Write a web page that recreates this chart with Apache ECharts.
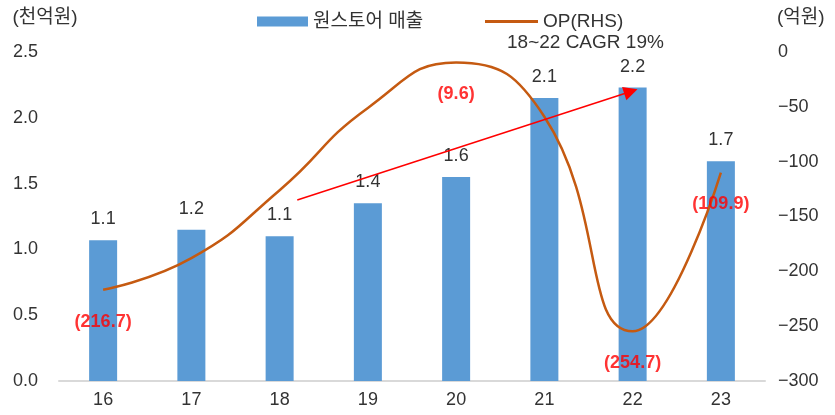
<!DOCTYPE html>
<html>
<head>
<meta charset="utf-8">
<script src="https://cdn.jsdelivr.net/npm/echarts@6/dist/echarts.min.js"></script>
<style>html,body{margin:0;padding:0;background:#fff}#c{width:835px;height:415px}</style>
</head>
<body>
<div id="c"></div>
<script>
const categories = ['16','17','18','19','20','21','22','23'];
const sales = [1.07, 1.15, 1.10, 1.35, 1.55, 2.15, 2.23, 1.67];
const salesLabels = ['1.1','1.2','1.1','1.4','1.6','2.1','2.2','1.7'];
const op = [-216.7, -188, -126, -51, -9.6, -59, -254.7, -109.9];
const opLabelShown = [true, false, false, false, true, false, true, true];
const leftTicks = {min: 0, max: 2.5, interval: 0.5};
const rightTicks = {min: -300, max: 0, interval: 50};
// CAGR arrow endpoints: [category position, sales value]
const arrowStart = [2.2, 1.375];
const arrowEnd = [5.98, 2.2];

const FONT = "'Liberation Sans','Noto Sans CJK KR',sans-serif";
const chart = echarts.init(document.getElementById('c'));
chart.setOption({
  animation: false,
  textStyle: {fontFamily: FONT},
  grid: {left: 59, right: 70, top: 52, bottom: 34, containLabel: false},
  legend: [{
    left: 252, top: 7, itemWidth: 51, itemHeight: 10,
    textStyle: {fontSize: 19, color: '#333', fontFamily: FONT},
    data: [{name: '원스토어 매출', icon: 'rect'}]
  }, {
    left: 480, top: 7, itemWidth: 53, itemHeight: 3,
    textStyle: {fontSize: 19, color: '#333', fontFamily: FONT},
    data: [{name: 'OP(RHS)', icon: 'rect'}]
  }],
  graphic: [{
    type: 'text', left: 507, top: 33,
    style: {text: '18~22 CAGR 19%', fontSize: 19, fill: '#333', fontFamily: FONT}
  }, {
    type: 'text', x: 45, y: 18,
    style: {text: '(천억원)', fontSize: 19, fill: '#333', fontFamily: FONT, align: 'center', verticalAlign: 'middle'}
  }, {
    type: 'text', x: 777, y: 18,
    style: {text: '(억원)', fontSize: 19, fill: '#333', fontFamily: FONT, align: 'left', verticalAlign: 'middle'}
  }],
  xAxis: [{
    type: 'category', data: categories,
    axisLine: {lineStyle: {color: '#d9d9d9', width: 2}},
    axisTick: {show: false},
    axisLabel: {color: '#333', fontSize: 18, margin: 10}
  }, {
    type: 'value', min: -0.5, max: 7.5, show: false
  }],
  yAxis: [{
    type: 'value', min: leftTicks.min, max: leftTicks.max, interval: leftTicks.interval,
    axisLine: {show: false}, axisTick: {show: false}, splitLine: {show: false},
    axisLabel: {color: '#333', fontSize: 18, margin: 21, formatter: v => v.toFixed(1)}
  }, {
    type: 'value', min: rightTicks.min, max: rightTicks.max, interval: rightTicks.interval,
    axisLine: {show: false}, axisTick: {show: false}, splitLine: {show: false},
    axisLabel: {color: '#333', fontSize: 18, margin: 13, formatter: v => (v < 0 ? '\u2212' + Math.abs(v) : String(v))}
  }],
  series: [{
    name: '원스토어 매출', type: 'bar', data: sales, barWidth: 28,
    itemStyle: {color: '#5B9BD5'},
    label: {show: true, position: 'top', distance: 12, color: '#333', fontSize: 18,
      formatter: p => salesLabels[p.dataIndex]}
  }, {
    name: 'OP(RHS)', type: 'line', yAxisIndex: 1, data: op, smooth: 0.5,
    symbol: 'none', lineStyle: {color: '#C55A11', width: 2.5}, itemStyle: {color: '#C55A11'},
    z: 3
  }, {
    name: 'op-labels', type: 'scatter', yAxisIndex: 1,
    data: op.map((v, i) => opLabelShown[i] ? [i, v] : null).filter(Boolean),
    symbolSize: 0, silent: true, z: 5,
    label: {show: true, position: 'bottom', distance: 23, color: '#FF0000', fontSize: 18, fontWeight: 'bold',
      formatter: p => '(' + Math.abs(p.value[1]).toFixed(1) + ')'}
  }, {
    name: 'arrow', type: 'line', xAxisIndex: 1, yAxisIndex: 0,
    data: [arrowStart, arrowEnd], symbol: 'none', lineStyle: {opacity: 0}, silent: true, z: 4,
    markLine: {
      silent: true, symbol: ['none', 'triangle'], symbolSize: 14,
      label: {show: false},
      lineStyle: {color: '#FF0000', width: 1.5, type: 'solid'},
      data: [[{coord: arrowStart}, {coord: arrowEnd}]]
    }
  }]
});
</script>
</body>
</html>
